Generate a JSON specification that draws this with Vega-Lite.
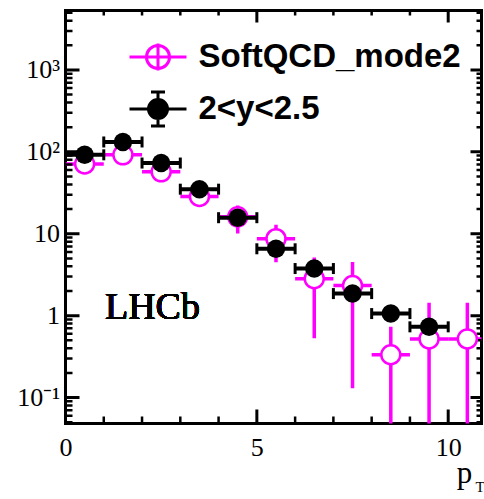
{
  "$schema": "https://vega.github.io/schema/vega-lite/v6.json",
  "width": 416,
  "height": 413,
  "autosize": {"type": "none"},
  "padding": {"left": 65.5, "top": 10.5, "right": 2.5, "bottom": 75.5},
  "background": "white",
  "config": {
    "view": {"stroke": "black", "strokeWidth": 3},
    "axis": {
      "grid": false,
      "ticks": false,
      "domain": false,
      "labelFont": "Liberation Serif",
      "labelFontSize": 26,
      "labelColor": "black",
      "titleFont": "Liberation Serif",
      "titleColor": "black",
      "titleFontWeight": "normal",
      "labelFlush": false,
      "labelOverlap": false
    }
  },
  "data": {
    "values": [
      {"series": "SoftQCD_mode2", "x": 0.5, "y": 71, "xlo": 0, "xhi": 1, "ylo": 68, "yhi": 74},
      {"series": "SoftQCD_mode2", "x": 1.5, "y": 92, "xlo": 1, "xhi": 2, "ylo": 89, "yhi": 95},
      {"series": "SoftQCD_mode2", "x": 2.5, "y": 57, "xlo": 2, "xhi": 3, "ylo": 54.5, "yhi": 59.5},
      {"series": "SoftQCD_mode2", "x": 3.5, "y": 28.5, "xlo": 3, "xhi": 4, "ylo": 26.5, "yhi": 30.5},
      {"series": "SoftQCD_mode2", "x": 4.5, "y": 16.1, "xlo": 4, "xhi": 5, "ylo": 10.1, "yhi": 22.1},
      {"series": "SoftQCD_mode2", "x": 5.5, "y": 8.7, "xlo": 5, "xhi": 6, "ylo": 4.5, "yhi": 12.9},
      {"series": "SoftQCD_mode2", "x": 6.5, "y": 2.83, "xlo": 6, "xhi": 7, "ylo": 0.53, "yhi": 5.13},
      {"series": "SoftQCD_mode2", "x": 7.5, "y": 2.33, "xlo": 7, "xhi": 8, "ylo": 0.13, "yhi": 4.53},
      {"series": "SoftQCD_mode2", "x": 8.5, "y": 0.333, "xlo": 8, "xhi": 9, "ylo": 0.001, "yhi": 0.73},
      {"series": "SoftQCD_mode2", "x": 9.5, "y": 0.52, "xlo": 9, "xhi": 10, "ylo": 0.001, "yhi": 1.44},
      {"series": "SoftQCD_mode2", "x": 10.5, "y": 0.52, "xlo": 10, "xhi": 11, "ylo": 0.001, "yhi": 1.44},
      {"series": "2<y<2.5", "x": 0.5, "y": 92, "xlo": 0, "xhi": 1},
      {"series": "2<y<2.5", "x": 1.5, "y": 132, "xlo": 1, "xhi": 2},
      {"series": "2<y<2.5", "x": 2.5, "y": 73, "xlo": 2, "xhi": 3},
      {"series": "2<y<2.5", "x": 3.5, "y": 35, "xlo": 3, "xhi": 4},
      {"series": "2<y<2.5", "x": 4.5, "y": 15.7, "xlo": 4, "xhi": 5},
      {"series": "2<y<2.5", "x": 5.5, "y": 6.55, "xlo": 5, "xhi": 6},
      {"series": "2<y<2.5", "x": 6.5, "y": 3.76, "xlo": 6, "xhi": 7},
      {"series": "2<y<2.5", "x": 7.5, "y": 1.86, "xlo": 7, "xhi": 8},
      {"series": "2<y<2.5", "x": 8.5, "y": 1.06, "xlo": 8, "xhi": 9},
      {"series": "2<y<2.5", "x": 9.5, "y": 0.73, "xlo": 9, "xhi": 10}
    ]
  },
  "layer": [
    {
      "transform": [{"filter": "datum.series === 'SoftQCD_mode2'"}],
      "mark": {"type": "rule", "color": "#ff00ff", "strokeWidth": 3.5, "clip": true},
      "encoding": {
        "x": {"field": "xlo", "type": "quantitative", "scale": {"domain": [0, 10.87], "nice": false, "zero": false},
          "axis": {
            "orient": "bottom",
            "values": [0, 5, 10],
            "labelPadding": 11,
            "title": "p",
            "titleX": 398.5,
            "titleY": 59,
            "titleAlign": "center",
            "titleBaseline": "alphabetic",
            "titleFontSize": 31
          }
        },
        "x2": {"field": "xhi"},
        "y": {"field": "y", "type": "quantitative", "scale": {"type": "log", "domain": [0.0482, 5320], "nice": false},
          "axis": {
            "orient": "left",
            "values": [0.1, 1, 10, 100, 1000],
            "labelExpr": "datum.value === 0.1 ? '10⁻¹' : datum.value === 1 ? '1' : datum.value === 10 ? '10' : datum.value === 100 ? '10²' : '10³'",
            "labelPadding": 6,
            "title": null
          }
        }
      }
    },
    {
      "data": {"values": [{"v": 0.1}, {"v": 1}, {"v": 10}, {"v": 100}, {"v": 1000}]},
      "mark": {"type": "tick", "orient": "horizontal", "color": "black", "size": 28, "thickness": 3, "opacity": 1, "clip": true},
      "encoding": {
        "y": {"field": "v", "type": "quantitative", "axis": null},
        "x": {"datum": 0, "type": "quantitative",
          "axis": {
            "orient": "top",
            "values": [],
            "labels": false,
            "title": "T",
            "titleX": 414,
            "titleY": 480.5,
            "titleAlign": "center",
            "titleBaseline": "alphabetic",
            "titleFontSize": 15
          }
        }
      }
    },
    {
      "data": {"values": [
        {"v": 0.05}, {"v": 0.06}, {"v": 0.07}, {"v": 0.08}, {"v": 0.09},
        {"v": 0.2}, {"v": 0.3}, {"v": 0.4}, {"v": 0.5}, {"v": 0.6}, {"v": 0.7}, {"v": 0.8}, {"v": 0.9},
        {"v": 2}, {"v": 3}, {"v": 4}, {"v": 5}, {"v": 6}, {"v": 7}, {"v": 8}, {"v": 9},
        {"v": 20}, {"v": 30}, {"v": 40}, {"v": 50}, {"v": 60}, {"v": 70}, {"v": 80}, {"v": 90},
        {"v": 200}, {"v": 300}, {"v": 400}, {"v": 500}, {"v": 600}, {"v": 700}, {"v": 800}, {"v": 900},
        {"v": 2000}, {"v": 3000}, {"v": 4000}, {"v": 5000}
      ]},
      "mark": {"type": "tick", "orient": "horizontal", "color": "black", "size": 14, "thickness": 2.5, "opacity": 1, "clip": true},
      "encoding": {
        "y": {"field": "v", "type": "quantitative", "axis": null},
        "x": {"datum": 0, "type": "quantitative", "axis": null}
      }
    },
    {
      "data": {"values": [{"v": 0.1}, {"v": 1}, {"v": 10}, {"v": 100}, {"v": 1000}]},
      "mark": {"type": "tick", "orient": "horizontal", "color": "black", "size": 22, "thickness": 3, "opacity": 1, "clip": true},
      "encoding": {
        "y": {"field": "v", "type": "quantitative", "axis": null},
        "x": {"datum": 10.87, "type": "quantitative", "axis": null}
      }
    },
    {
      "data": {"values": [
        {"v": 0.05}, {"v": 0.06}, {"v": 0.07}, {"v": 0.08}, {"v": 0.09},
        {"v": 0.2}, {"v": 0.3}, {"v": 0.4}, {"v": 0.5}, {"v": 0.6}, {"v": 0.7}, {"v": 0.8}, {"v": 0.9},
        {"v": 2}, {"v": 3}, {"v": 4}, {"v": 5}, {"v": 6}, {"v": 7}, {"v": 8}, {"v": 9},
        {"v": 20}, {"v": 30}, {"v": 40}, {"v": 50}, {"v": 60}, {"v": 70}, {"v": 80}, {"v": 90},
        {"v": 200}, {"v": 300}, {"v": 400}, {"v": 500}, {"v": 600}, {"v": 700}, {"v": 800}, {"v": 900},
        {"v": 2000}, {"v": 3000}, {"v": 4000}, {"v": 5000}
      ]},
      "mark": {"type": "tick", "orient": "horizontal", "color": "black", "size": 10, "thickness": 2.5, "opacity": 1, "clip": true},
      "encoding": {
        "y": {"field": "v", "type": "quantitative", "axis": null},
        "x": {"datum": 10.87, "type": "quantitative", "axis": null}
      }
    },
    {
      "data": {"values": [{"v": 0}, {"v": 5}, {"v": 10}]},
      "mark": {"type": "tick", "orient": "vertical", "color": "black", "size": 28, "thickness": 3, "opacity": 1, "clip": true},
      "encoding": {
        "x": {"field": "v", "type": "quantitative", "axis": null},
        "y": {"datum": 0.0482, "type": "quantitative", "axis": null}
      }
    },
    {
      "data": {"values": [{"v": 1}, {"v": 2}, {"v": 3}, {"v": 4}, {"v": 6}, {"v": 7}, {"v": 8}, {"v": 9}]},
      "mark": {"type": "tick", "orient": "vertical", "color": "black", "size": 14, "thickness": 2.5, "opacity": 1, "clip": true},
      "encoding": {
        "x": {"field": "v", "type": "quantitative", "axis": null},
        "y": {"datum": 0.0482, "type": "quantitative", "axis": null}
      }
    },
    {
      "data": {"values": [{"v": 0}, {"v": 5}, {"v": 10}]},
      "mark": {"type": "tick", "orient": "vertical", "color": "black", "size": 24, "thickness": 3, "opacity": 1, "clip": true},
      "encoding": {
        "x": {"field": "v", "type": "quantitative", "axis": null},
        "y": {"datum": 5320, "type": "quantitative", "axis": null}
      }
    },
    {
      "data": {"values": [{"v": 1}, {"v": 2}, {"v": 3}, {"v": 4}, {"v": 6}, {"v": 7}, {"v": 8}, {"v": 9}]},
      "mark": {"type": "tick", "orient": "vertical", "color": "black", "size": 10, "thickness": 2.5, "opacity": 1, "clip": true},
      "encoding": {
        "x": {"field": "v", "type": "quantitative", "axis": null},
        "y": {"datum": 5320, "type": "quantitative", "axis": null}
      }
    },
    {
      "transform": [{"filter": "datum.series === 'SoftQCD_mode2'"}],
      "mark": {"type": "rule", "color": "#ff00ff", "strokeWidth": 3.5, "clip": true},
      "encoding": {
        "x": {"field": "x", "type": "quantitative", "axis": null},
        "y": {"field": "ylo", "type": "quantitative", "axis": null},
        "y2": {"field": "yhi"}
      }
    },
    {
      "transform": [{"filter": "datum.series === 'SoftQCD_mode2'"}],
      "mark": {"type": "point", "shape": "circle", "filled": false, "fill": "white", "fillOpacity": 1, "strokeWidth": 2.5, "size": 360, "opacity": 1, "clip": true},
      "encoding": {
        "x": {"field": "x", "type": "quantitative", "axis": null},
        "y": {"field": "y", "type": "quantitative", "axis": null},
        "stroke": {
          "field": "series",
          "type": "nominal",
          "scale": {"domain": ["SoftQCD_mode2"], "range": ["#ff00ff"]},
          "legend": {
            "orient": "none",
            "legendX": 76,
            "legendY": 30,
            "title": null,
            "padding": 0,
            "symbolType": "M-2.85,0L2.85,0M0,-1.35L0,1.35M-1.15,0A1.15,1.15,0,1,0,1.15,0A1.15,1.15,0,1,0,-1.15,0Z",
            "symbolSize": 400,
            "symbolFillColor": "transparent",
            "symbolStrokeWidth": 3,
            "symbolOpacity": 1,
            "labelOffset": 24,
            "labelFont": "Liberation Sans",
            "labelFontWeight": "bold",
            "labelFontSize": 33,
            "labelColor": "black",
            "labelLimit": 400
          }
        }
      }
    },
    {
      "transform": [{"filter": "datum.series === '2<y<2.5'"}],
      "mark": {"type": "rule", "color": "black", "strokeWidth": 4, "clip": true},
      "encoding": {
        "x": {"field": "xlo", "type": "quantitative", "axis": null},
        "x2": {"field": "xhi"},
        "y": {"field": "y", "type": "quantitative", "axis": null}
      }
    },
    {
      "transform": [{"filter": "datum.series === '2<y<2.5'"}],
      "mark": {"type": "tick", "orient": "vertical", "color": "black", "size": 11, "thickness": 3, "opacity": 1},
      "encoding": {
        "x": {"field": "xlo", "type": "quantitative", "axis": null},
        "y": {"field": "y", "type": "quantitative", "axis": null}
      }
    },
    {
      "transform": [{"filter": "datum.series === '2<y<2.5'"}],
      "mark": {"type": "tick", "orient": "vertical", "color": "black", "size": 11, "thickness": 3, "opacity": 1},
      "encoding": {
        "x": {"field": "xhi", "type": "quantitative", "axis": null},
        "y": {"field": "y", "type": "quantitative", "axis": null}
      }
    },
    {
      "mark": {"type": "text", "text": "LHCb", "font": "Liberation Serif", "fontSize": 38, "fontWeight": "normal", "align": "left", "baseline": "alphabetic", "color": "black"},
      "encoding": {
        "x": {"datum": 1.03, "type": "quantitative", "axis": null},
        "y": {"datum": 0.92, "type": "quantitative", "axis": null}
      }
    },
    {
      "transform": [{"filter": "datum.series === '2<y<2.5'"}],
      "mark": {"type": "point", "shape": "circle", "filled": true, "size": 340, "opacity": 1},
      "encoding": {
        "x": {"field": "x", "type": "quantitative", "axis": null},
        "y": {"field": "y", "type": "quantitative", "axis": null},
        "color": {
          "field": "series",
          "type": "nominal",
          "scale": {"domain": ["2<y<2.5"], "range": ["#000000"]},
          "legend": {
            "orient": "none",
            "legendX": 76,
            "legendY": 82,
            "title": null,
            "padding": 0,
            "symbolType": "M-2.85,0L2.85,0M0,-1.7L0,1.7M-0.7,-1.7L0.7,-1.7M-0.7,1.7L0.7,1.7M-0.95,0A0.95,0.95,0,1,0,0.95,0A0.95,0.95,0,1,0,-0.95,0Z",
            "symbolSize": 400,
            "symbolStrokeColor": "black",
            "symbolStrokeWidth": 3,
            "symbolOpacity": 1,
            "labelOffset": 24,
            "labelFont": "Liberation Sans",
            "labelFontWeight": "bold",
            "labelFontSize": 33,
            "labelColor": "black",
            "labelLimit": 400
          }
        }
      }
    }
  ],
  "resolve": {"axis": {"x": "independent", "y": "independent"}}
}
